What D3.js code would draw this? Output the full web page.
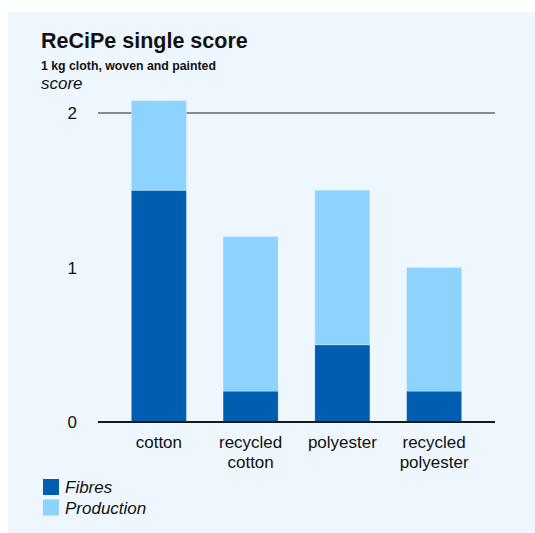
<!DOCTYPE html>
<html>
<head>
<meta charset="utf-8">
<script src="https://cdn.jsdelivr.net/npm/d3@7"></script>
<style>
  body { margin: 0; background: #fff; }
  text { font-family: "Liberation Sans", Arial, sans-serif; fill: #111; }
</style>
</head>
<body>
<div id="chart-area"></div>
<script>
const categories = [["cotton"], ["recycled", "cotton"], ["polyester"], ["recycled", "polyester"]];
const fibres = [1.5, 0.2, 0.5, 0.2];
const production = [0.58, 1.0, 1.0, 0.8];
const seriesNames = ["Fibres", "Production"];
const yTicks = [0, 1, 2];

const width = 535;
const height = 533;

const svg = d3.select("#chart-area")
  .append("svg")
  .attr("width", width)
  .attr("height", height);

svg.append("rect")
  .attr("x", 8).attr("y", 12)
  .attr("width", width - 8).attr("height", height - 12)
  .attr("fill", "#eef7fe");

svg.append("text").attr("x", 41).attr("y", 48)
  .text("ReCiPe single score")
  .style("font-size", "21.5px").style("font-weight", "bold");
svg.append("text").attr("x", 41).attr("y", 70)
  .text("1 kg cloth, woven and painted")
  .style("font-size", "12.3px").style("font-weight", "bold");
svg.append("text").attr("x", 41).attr("y", 89)
  .text("score")
  .style("font-size", "17px").style("font-style", "italic");

const data = categories.map((c, i) => ({ key: i, Fibres: fibres[i], Production: production[i] }));

const x = d3.scaleBand()
  .domain(d3.range(categories.length))
  .range([113, 480])
  .paddingInner(0.4)
  .paddingOuter(0.2);

const y = d3.scaleLinear()
  .domain([0, 2])
  .range([422, 113]);

const color = d3.scaleOrdinal(seriesNames, ["#005eb0", "#8dd3ff"]);

// gridline at top tick only
svg.append("line")
  .attr("x1", 98).attr("x2", 495)
  .attr("y1", y(2)).attr("y2", y(2))
  .attr("stroke", "#868b90").attr("stroke-width", 2);

// tick labels
svg.selectAll(".ytick")
  .data(yTicks)
  .enter().append("text")
  .attr("x", 77)
  .attr("y", d => y(d) + 6)
  .attr("text-anchor", "end")
  .style("font-size", "17px")
  .text(d => d);

const stack = d3.stack().keys(seriesNames);

svg.append("g")
  .selectAll("g")
  .data(stack(data))
  .enter().append("g")
  .attr("fill", d => color(d.key))
  .selectAll("rect")
  .data(d => d)
  .enter().append("rect")
  .attr("x", d => x(d.data.key))
  .attr("width", x.bandwidth())
  .attr("y", d => y(d[1]))
  .attr("height", d => y(d[0]) - y(d[1]))
  .attr("stroke", "rgba(255,255,255,0.25)")
  .attr("stroke-width", 1);

// zero axis
svg.append("line")
  .attr("x1", 98).attr("x2", 495)
  .attr("y1", y(0)).attr("y2", y(0))
  .attr("stroke", "#1a1a1a").attr("stroke-width", 2);

// category labels, one text per line
categories.forEach((lines, i) => {
  lines.forEach((t, j) => {
    svg.append("text")
      .attr("x", x(i) + x.bandwidth() / 2)
      .attr("y", 448 + j * 19.5)
      .attr("text-anchor", "middle")
      .style("font-size", "17px")
      .text(t);
  });
});

// legend
const legend = svg.append("g");
seriesNames.forEach((s, i) => {
  legend.append("rect").attr("x", 43).attr("y", 479 + i * 20.5)
    .attr("width", 16).attr("height", 16).attr("fill", color(s));
  legend.append("text").attr("x", 65).attr("y", 493 + i * 20.5)
    .text(s).style("font-size", "17px").style("font-style", "italic");
});
</script>
</body>
</html>
